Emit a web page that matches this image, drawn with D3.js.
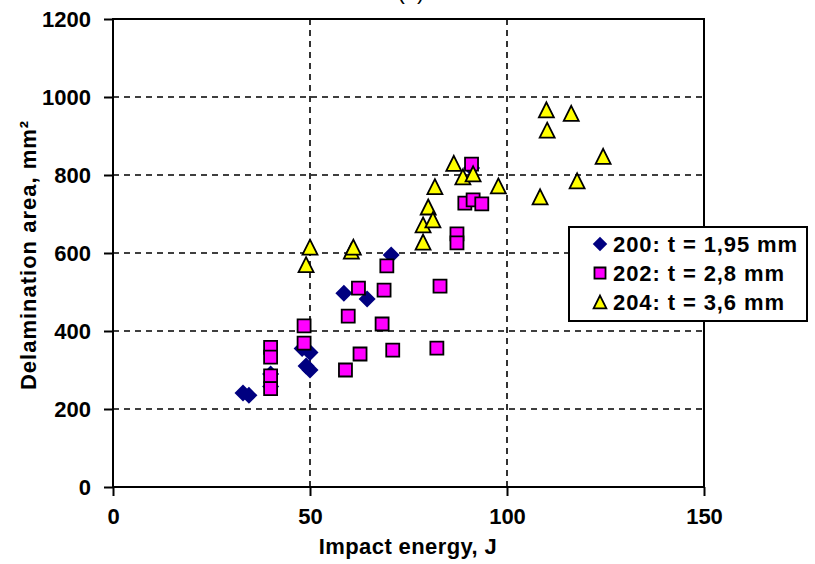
<!DOCTYPE html>
<html>
<head>
<meta charset="utf-8">
<script src="https://cdn.jsdelivr.net/npm/d3@7/dist/d3.min.js"></script>
<style>
  body { margin: 0; background: #fff; }
  text { font-family: "Liberation Sans", Arial, sans-serif; font-weight: bold; fill: #000; }
</style>
</head>
<body>
<svg id="chart" width="815" height="564"></svg>
<script>
// tick labels
const xTicks = [0, 50, 100, 150];
const yTicks = [0, 200, 400, 600, 800, 1000, 1200];

// series 200: t = 1,95 mm
const s200x = [33, 34.5, 40, 40, 48, 50, 49, 50, 58.6, 64.5, 70.6, 91];
const s200y = [241, 235, 258, 290, 355, 345, 310, 300, 497, 482, 595, 818];

// series 202: t = 2,8 mm
const s202x = [40, 40, 40, 40, 48.5, 48.5, 59, 59.7, 62.3, 62.7, 68.3, 68.8, 69.5, 71, 82.2, 83, 87.3, 87.3, 89.3, 91.4, 93.6, 91];
const s202y = [358, 333, 285, 252, 413, 369, 300, 438, 510, 341, 418, 505, 567, 351, 356, 515, 649, 626, 728, 736, 726, 828];

// series 204: t = 3,6 mm
const s204x = [49, 50, 60.5, 61, 78.7, 78.7, 80, 81.2, 81.7, 86.5, 88.8, 91.4, 97.8, 108.4, 110, 110.2, 116.3, 117.8, 124.4];
const s204y = [570, 615, 605, 615, 628, 672, 718, 685, 770, 830, 795, 803, 772, 744, 967, 915, 958, 785, 848];

const seriesNames = ["200: t = 1,95 mm", "202: t = 2,8 mm", "204: t = 3,6 mm"];

const svg = d3.select("#chart");

let x = d3.scaleLinear().domain([0, 150]).range([113, 704]);
let y = d3.scaleLinear().domain([0, 1200]).range([487, 19]);

// marker shapes, centred on 0,0
const shapes = {
  diamond: (r) => `M0,${-r}L${r},0L0,${r}L${-r},0Z`,
  square: (r) => `M${-r},${-r}H${r}V${r}H${-r}Z`,
  triangle: (r) => `M0,${-r}L${r},${r}H${-r}Z`,
};

const series = [
  { name: seriesNames[0], xs: s200x, ys: s200y, shape: "diamond", r: 8.5, fill: "#000080", stroke: "none" },
  { name: seriesNames[1], xs: s202x, ys: s202y, shape: "square", r: 6.5, fill: "#ff00ff", stroke: "#000" },
  { name: seriesNames[2], xs: s204x, ys: s204y, shape: "triangle", r: 7.5, fill: "#ffff00", stroke: "#000" },
];

// title, cut off at the top like the source
svg.append("text")
  .attr("x", 411)
  .attr("y", -1)
  .attr("text-anchor", "middle")
  .style("font-size", "22px")
  .style("font-weight", "normal")
  .text("(a)");

// grid
svg.append("g")
  .selectAll("line")
  .data(xTicks.slice(1, -1))
  .enter()
  .append("line")
  .attr("x1", (d) => x(d))
  .attr("x2", (d) => x(d))
  .attr("y1", y(1200))
  .attr("y2", y(0))
  .attr("stroke", "#000")
  .attr("stroke-width", 1.6)
  .attr("stroke-dasharray", "6,5");

svg.append("g")
  .selectAll("line")
  .data(yTicks.slice(1, -1))
  .enter()
  .append("line")
  .attr("x1", x(0))
  .attr("x2", x(150))
  .attr("y1", (d) => y(d))
  .attr("y2", (d) => y(d))
  .attr("stroke", "#000")
  .attr("stroke-width", 1.6)
  .attr("stroke-dasharray", "6,5");

// axes
const xAxis = svg.append("g")
  .attr("transform", `translate(0,${y(0)})`)
  .call(d3.axisBottom(x).tickValues(xTicks).tickSize(9).tickPadding(12).tickFormat((d) => d));

const yAxis = svg.append("g")
  .attr("transform", `translate(${x(0)},0)`)
  .call(d3.axisLeft(y).tickValues(yTicks).tickSize(9).tickPadding(13).tickFormat((d) => d));

[xAxis, yAxis].forEach((a) => {
  a.select(".domain").remove();
  a.selectAll(".tick line").attr("stroke", "#000").attr("stroke-width", 2);
  a.selectAll(".tick text")
    .attr("fill", "#000")
    .style("font-size", "22px")
    .style("font-family", '"Liberation Sans", Arial, sans-serif')
    .style("font-weight", "bold");
});
yAxis.selectAll(".tick text").attr("dy", "0.36em");

// plot frame
svg.append("rect")
  .attr("x", x(0))
  .attr("y", y(1200))
  .attr("width", x(150) - x(0))
  .attr("height", y(0) - y(1200))
  .attr("fill", "none")
  .attr("stroke", "#000")
  .attr("stroke-width", 2);

// points
series.forEach((s) => {
  svg.append("g")
    .selectAll("path")
    .data(s.xs.map((v, i) => [v, s.ys[i]]))
    .enter()
    .append("path")
    .attr("d", shapes[s.shape](s.r))
    .attr("transform", (d) => `translate(${x(d[0])},${y(d[1])})`)
    .attr("fill", s.fill)
    .attr("stroke", s.stroke)
    .attr("stroke-width", 1.8);
});

// axis titles
svg.append("text")
  .attr("x", 408)
  .attr("y", 554)
  .attr("text-anchor", "middle")
  .style("font-size", "22px")
  .style("letter-spacing", "0.4px")
  .text("Impact energy, J");

svg.append("text")
  .attr("transform", "translate(36,255) rotate(-90)")
  .attr("text-anchor", "middle")
  .style("font-size", "22px")
  .style("letter-spacing", "1px")
  .text("Delamination area, mm²");

// legend
const legend = svg.append("g");
legend.append("rect")
  .attr("x", 569)
  .attr("y", 227)
  .attr("width", 238)
  .attr("height", 94)
  .attr("fill", "#fff")
  .attr("stroke", "#000")
  .attr("stroke-width", 2);

const rowY = [244, 273, 302];
const item = legend.selectAll(".item")
  .data(series)
  .enter()
  .append("g")
  .attr("class", "item")
  .attr("transform", (d, i) => `translate(600,${rowY[i]})`);

item.append("path")
  .attr("d", (d) => shapes[d.shape](d.r * 0.85))
  .attr("fill", (d) => d.fill)
  .attr("stroke", (d) => d.stroke)
  .attr("stroke-width", 1.8);

item.append("text")
  .attr("x", 13)
  .attr("dy", "0.36em")
  .style("font-size", "22px")
  .style("letter-spacing", "0.9px")
  .text((d) => d.name);
</script>
</body>
</html>
